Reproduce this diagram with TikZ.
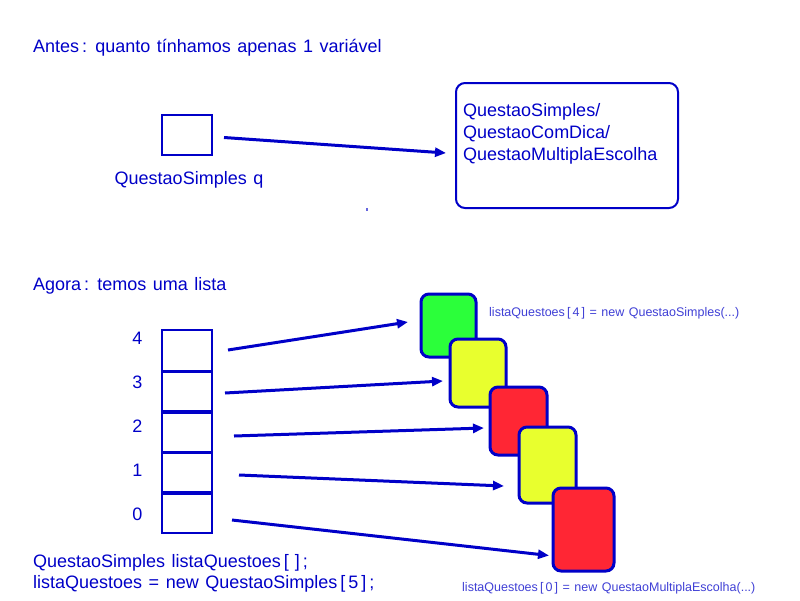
\documentclass[tikz,border=0pt]{standalone}
\usepackage{fontspec}
\setmainfont[WordSpace=1.3]{Liberation Sans}
\usetikzlibrary{arrows.meta}
\definecolor{qblue}{RGB}{0,0,200}
\definecolor{qgreen}{RGB}{43,255,58}
\definecolor{qyellow}{RGB}{232,255,46}
\definecolor{qred}{RGB}{255,38,52}
\newcommand{\qlb}{\,[\,}
\newcommand{\qrb}{\,]}
\tikzset{
  txt/.style={text=qblue,font=\fontsize{18}{22}\selectfont,inner sep=0pt,anchor=base west},
  smalltxt/.style={text=qblue!75,font=\fontsize{12.5}{15}\selectfont,inner sep=0pt,anchor=base west},
  idx/.style={text=qblue,font=\fontsize{18}{22}\selectfont,inner sep=0pt,anchor=base},
  cell/.style={draw=qblue,line width=2pt,inner sep=0pt},
  card/.style={draw=qblue,line width=3pt,rounded corners=8pt,inner sep=0pt},
  ptr/.style={draw=qblue,line width=3pt,-{Triangle[length=11pt,width=9pt]}},
}
\begin{document}
\begin{tikzpicture}[x=1pt,y=-1pt]
\useasboundingbox[fill=white] (0,0) rectangle (800,600);

% ---- Top part
\node[txt] (title1) at (33,52.5) {Antes\,: quanto tínhamos apenas 1 variável};
\node[cell,minimum width=50pt,minimum height=40pt] (q) at (187,134.5) {};
\node[idx] (qlabel) at (189,184) {QuestaoSimples q};
\node[draw=qblue,line width=2pt,rounded corners=9pt,minimum width=222pt,minimum height=125pt,inner sep=0pt] (obj) at (567,145.5) {};
\node[txt] (objt1) at (463,116.5) {QuestaoSimples/};
\node[txt] (objt2) at (463,138.5) {QuestaoComDica/};
\node[txt] (objt3) at (463,160.5) {QuestaoMultiplaEscolha};
\coordinate (qs) at (224,137.5);
\coordinate (qe) at (446,153);
\draw[ptr] (qs) -- (qe);
\fill[qblue!60] (366,208) rectangle (368,211);

% ---- Bottom part
\node[txt] (title2) at (33,290.5) {Agora\,: temos uma lista};

\node[cell,minimum width=50pt,minimum height=40.6pt] (c4) at (187,350.3) {};
\node[cell,minimum width=50pt,minimum height=40.6pt] (c3) at (187,390.9) {};
\node[cell,minimum width=50pt,minimum height=40.6pt] (c2) at (187,431.5) {};
\node[cell,minimum width=50pt,minimum height=40.6pt] (c1) at (187,472.1) {};
\node[cell,minimum width=50pt,minimum height=40.6pt] (c0) at (187,512.7) {};
\draw[qblue,line width=3pt] (c4.south west) -- (c4.south east);
\draw[qblue,line width=3pt] (c3.south west) -- (c3.south east);
\draw[qblue,line width=3pt] (c2.south west) -- (c2.south east);
\draw[qblue,line width=3pt] (c1.south west) -- (c1.south east);

\node[idx] (i4) at (137.5,344) {4};
\node[idx] (i3) at (137.5,388) {3};
\node[idx] (i2) at (137.5,432) {2};
\node[idx] (i1) at (137.5,476) {1};
\node[idx] (i0) at (137.5,520) {0};

% cards
\node[card,fill=qgreen,minimum width=55pt,minimum height=63pt] (k4) at (448.5,325.5) {};
\node[card,fill=qyellow,minimum width=56pt,minimum height=68pt] (k3) at (478,373) {};
\node[card,fill=qred,minimum width=57pt,minimum height=68pt] (k2) at (518.5,421) {};
\node[card,fill=qyellow,minimum width=57pt,minimum height=76pt] (k1) at (547.5,465) {};
\node[card,fill=qred,minimum width=61pt,minimum height=83pt] (k0) at (583.5,529.5) {};

% pointers
\coordinate (s4) at (228,350);
\coordinate (e4) at (408,322);
\coordinate (s3) at (225,393);
\coordinate (e3) at (443,381);
\coordinate (s2) at (234,436);
\coordinate (e2) at (484,428);
\coordinate (s1) at (239,475);
\coordinate (e1) at (504,486);
\coordinate (s0) at (232,520);
\coordinate (e0) at (549,555.5);
\draw[ptr] (s4) -- (e4);
\draw[ptr] (s3) -- (e3);
\draw[ptr] (s2) -- (e2);
\draw[ptr] (s1) -- (e1);
\draw[ptr] (s0) -- (e0);

\node[smalltxt] (n4) at (489,316) {listaQuestoes\qlb 4\qrb\ = new QuestaoSimples(...)};
\node[smalltxt] (n0) at (462,591.5) {listaQuestoes\qlb 0\qrb\ = new QuestaoMultiplaEscolha(...)};

\node[txt] (decl1) at (33,567) {QuestaoSimples listaQuestoes\qlb\qrb\,;};
\node[txt] (decl2) at (33,588) {listaQuestoes = new QuestaoSimples\qlb 5\qrb\,;};
\end{tikzpicture}
\end{document}
